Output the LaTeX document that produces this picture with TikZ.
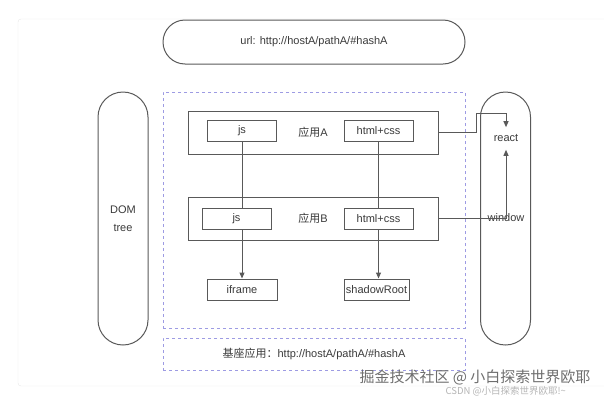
\documentclass[tikz,border=0pt]{standalone}
\usepackage{fontspec}
\setmainfont{Liberation Sans}
\newfontfamily\cjk{Noto Sans CJK SC}
\usetikzlibrary{positioning, arrows.meta, calc}
\definecolor{trazo}{HTML}{595959}
\definecolor{texto}{HTML}{3A3A3A}
\definecolor{punteado}{HTML}{9D9BE3}
\definecolor{borde}{HTML}{E6E6E6}
\definecolor{marca}{HTML}{6E6E6E}
\definecolor{marcatenue}{HTML}{B4B4B4}

\begin{document}
\begin{tikzpicture}[x=1pt, y=-1pt, font=\fontsize{11}{13}\selectfont, text=texto,
		caja/.style={draw=trazo, line width=1pt, fill=white, inner sep=0pt, minimum height=21pt},
		marco/.style={draw=trazo, line width=1pt, inner sep=0pt, minimum width=250pt, minimum height=43pt},
		capsula/.style={draw=trazo, line width=1pt, inner sep=0pt},
		zona/.style={draw=punteado, dashed, line width=0.8pt, inner sep=0pt},
		flecha/.style={draw=trazo, line width=1pt, -{Triangle[length=6pt, width=5pt]}}]
				\useasboundingbox (0,0) rectangle (604,399);
				\draw[borde, rounded corners=3pt] (18,19) rectangle (640,386);
				% capsulas exteriores
				\node[capsula, minimum width=302pt, minimum height=44pt, rounded corners=22pt] (url) at (314,42) {url: http://hostA/pathA/\#hashA};
				\node[capsula, minimum width=50pt, minimum height=253pt, rounded corners=25pt, align=center] (dom) at (123,218.5) {DOM\\[5pt]tree};
				\node[capsula, minimum width=50pt, minimum height=253pt, rounded corners=25pt] (ventana) at (505.5,218.5) {};
				% zonas punteadas
				\node[zona, minimum width=302pt, minimum height=236pt] (subapps) at (314,210) {};
				\node[zona, minimum width=302pt, minimum height=32pt] (base) at (314,354) {{\cjk 基座应用：}http://hostA/pathA/\#hashA};
				% aplicaciones
				\node[marco] (appA) at (313,132.5) {{\cjk 应用}A};
				\node[marco] (appB) at (313,218.5) {{\cjk 应用}B};
				\node[caja, minimum width=69pt] (jsA) at (242,130.5) {js};
				\node[caja, minimum width=69pt] (htmlA) at (378.5,130.5) {html+css};
				\node[caja, minimum width=70pt] (iframe) at (242,289.5) {iframe};
				\node[caja, minimum width=65pt] (shadow) at (376.5,289.5) {shadowRoot};
				\node[inner sep=0pt] (react) at (506,138) {react};
				\node[inner sep=0pt] (window) at (506,218) {window};
				% conexiones
				\draw[flecha] (jsA.south) -- (iframe.north);
				\draw[flecha] (htmlA.south) -- (htmlA.south |- shadow.north);
				\coordinate (codo) at (476,113);
				\draw[flecha] (appA.east) -| (codo) -- (codo -| react.north) -- ([yshift=7pt]react.north);
				\draw[flecha] (appB.east) -- (appB.east -| window) -- ([yshift=-8pt]react.south);
				\node[caja, minimum width=69pt] (jsB) at (236.5,218.5) {js};
				\node[caja, minimum width=69pt] (htmlB) at (378.5,218.5) {html+css};
				% marcas de agua
				\node[text=marca, anchor=west, font=\cjk\fontsize{15}{17}\selectfont] (marcaA) at (356,377) {掘金技术社区 @ 小白探索世界欧耶};
				\node[text=marcatenue, anchor=west, font=\cjk\fontsize{9.5}{11}\selectfont] (marcaB) at (442,391) {CSDN @小白探索世界欧耶!\textasciitilde};
			\end{tikzpicture}
\end{document}
